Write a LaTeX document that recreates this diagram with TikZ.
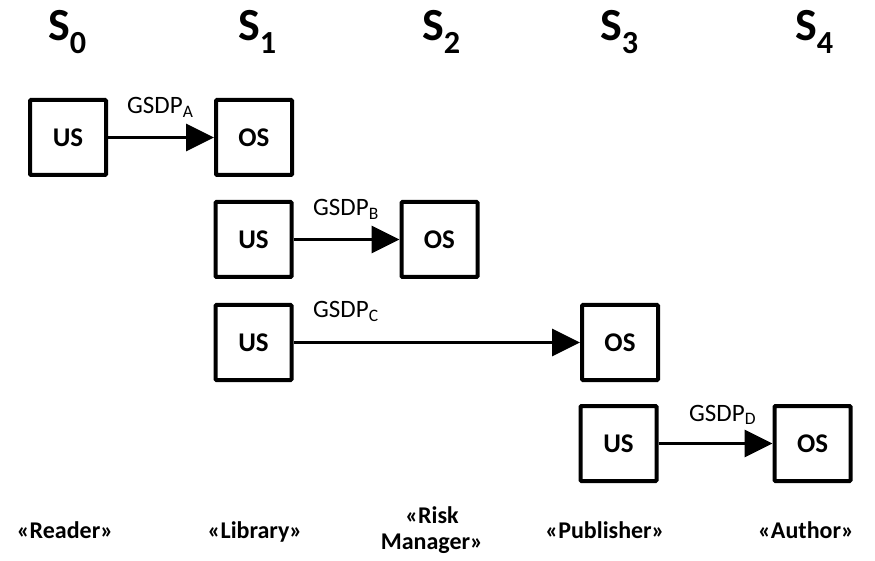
\documentclass[tikz,border=0pt]{standalone}
\usepackage{fontspec}
\setmainfont{Carlito}
\usetikzlibrary{arrows.meta}
\begin{document}
\begin{tikzpicture}[x=1pt,y=1pt,
  state/.style={draw, line width=4pt, minimum width=76pt, minimum height=75pt, inner sep=0pt, font=\bfseries\fontsize{27}{30}\selectfont, rounded corners=1pt},
  flow/.style={line width=3.5pt, -{Triangle[length=28pt,width=27pt]}},
  lbl/.style={anchor=base west, inner sep=0pt, font=\fontsize{25}{28}\selectfont},
  head/.style={anchor=base west, inner sep=0pt, font=\bfseries\fontsize{46}{50}\selectfont},
  role/.style={inner sep=0pt, align=center, font=\bfseries\fontsize{24}{26}\selectfont}]
\useasboundingbox (0,0) rectangle (875,560);
% headings
\node[head] (h0) at (48,519) {S\textsubscript{0}};
\node[head] (h1) at (238,519) {S\textsubscript{1}};
\node[head] (h2) at (422,519) {S\textsubscript{2}};
\node[head] (h3) at (600,519) {S\textsubscript{3}};
\node[head] (h4) at (795,519) {S\textsubscript{4}};
% states
\node[state] (ua) at (68,422.5) {US};
\node[state] (oa) at (254,422.5) {OS};
\node[state] (ub) at (253.5,320.5) {US};
\node[state] (ob) at (439.5,320.5) {OS};
\node[state] (uc) at (253.5,217.5) {US};
\node[state] (oc) at (620,217.5) {OS};
\node[state] (ud) at (618.5,116.5) {US};
\node[state] (od) at (812.5,116.5) {OS};
% flows
\draw[flow] (ua) -- (oa);
\draw[flow] (ub) -- (ob);
\draw[flow] (uc) -- (oc);
\draw[flow] (ud) -- (od);
% labels
\node[lbl] (la) at (127,446) {GSDP\textsubscript{A}};
\node[lbl] (lb) at (313,344) {GSDP\textsubscript{B}};
\node[lbl] (lc) at (313,242) {GSDP\textsubscript{C}};
\node[lbl] (ld) at (689,139) {GSDP\textsubscript{D}};
% roles
\node[role, anchor=base] (r0) at (65,22) {«Reader»};
\node[role, anchor=base] (r1) at (255,22) {«Library»};
\node[role] (r2) at (432,30) {«Risk\\Manager»};
\node[role, anchor=base] (r3) at (605,22) {«Publisher»};
\node[role, anchor=base] (r4) at (806,22) {«Author»};
\end{tikzpicture}
\end{document}
